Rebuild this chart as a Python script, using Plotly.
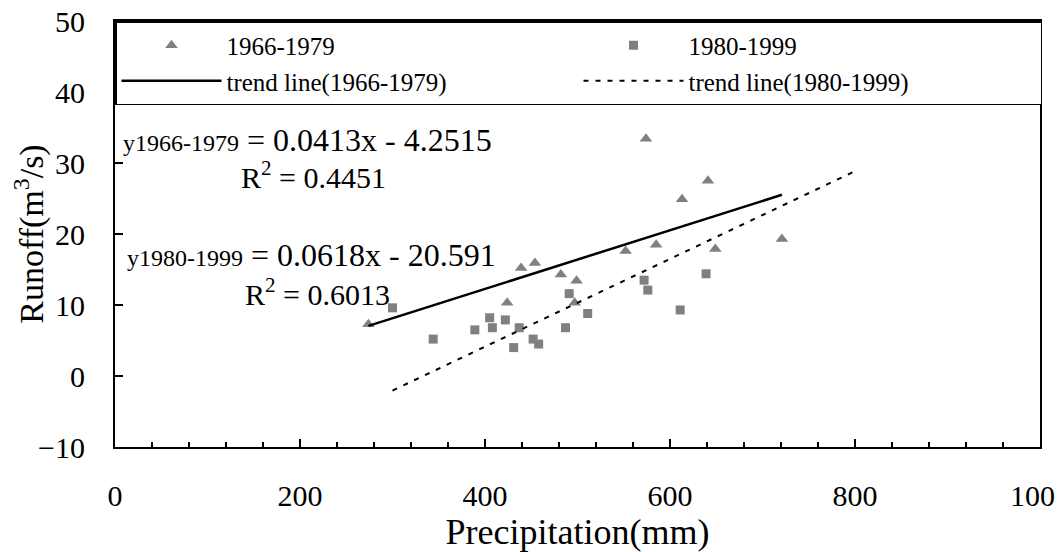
import plotly.graph_objects as go

# ---- data ----
x_1966 = [274, 424, 439, 454, 482, 497, 499, 552, 574, 585, 613, 641, 649, 721]
y_1966 = [7.3, 10.3, 15.2, 15.9, 14.3, 10.3, 13.4, 17.6, 33.4, 18.5, 24.9, 27.5, 17.9, 19.3]

x_1980 = [300, 344, 389, 405, 408, 422, 431, 437, 452, 458, 487, 491, 511, 572, 576, 611, 639]
y_1980 = [9.6, 5.2, 6.5, 8.2, 6.8, 7.9, 4.0, 6.8, 5.2, 4.5, 6.8, 11.6, 8.8, 13.5, 12.1, 9.3, 14.4]

slope_1966, intercept_1966, r2_1966 = 0.0413, -4.2515, 0.4451
slope_1980, intercept_1980, r2_1980 = 0.0618, -20.591, 0.6013
trend_x_1966 = [min(x_1966), max(x_1966)]
trend_x_1980 = [min(x_1980), 800]

x_ticks = [0, 200, 400, 600, 800, 1000]
y_ticks = [-10, 0, 10, 20, 30, 40, 50]

FONT = "Liberation Serif"
GREY = "#808080"

fig = go.Figure()
fig.add_trace(go.Scatter(x=x_1966, y=y_1966, mode="markers", name="1966-1979",
                         marker=dict(symbol="triangle-up", size=11, color=GREY)))
fig.add_trace(go.Scatter(x=x_1980, y=y_1980, mode="markers", name="1980-1999",
                         marker=dict(symbol="square", size=9, color=GREY)))
fig.add_trace(go.Scatter(x=trend_x_1966, y=[slope_1966 * v + intercept_1966 for v in trend_x_1966],
                         mode="lines", name="trend line(1966-1979)",
                         line=dict(color="black", width=2.5)))
fig.add_trace(go.Scatter(x=trend_x_1980, y=[slope_1980 * v + intercept_1980 for v in trend_x_1980],
                         mode="lines", name="trend line(1980-1999)",
                         line=dict(color="black", width=2, dash="5px,7px")))

def eq_text(period, slope, intercept):
    sign = "-" if intercept < 0 else "+"
    return (f"<span style='font-size:24px'>y{period}</span> = {slope}x {sign} {abs(intercept)}")

ann = [
    dict(text=eq_text("1966-1979", slope_1966, intercept_1966), x=0.007, y=0.721,
         xanchor="left", yanchor="middle", font=dict(size=32)),
    dict(text=f"R<sup>2</sup> = {r2_1966}", x=0.215, y=0.638, xanchor="center", yanchor="middle",
         font=dict(size=30)),
    dict(text=eq_text("1980-1999", slope_1980, intercept_1980), x=0.011, y=0.451,
         xanchor="left", yanchor="middle", font=dict(size=32)),
    dict(text=f"R<sup>2</sup> = {r2_1980}", x=0.219, y=0.364, xanchor="center", yanchor="middle",
         font=dict(size=30)),
]
for a in ann:
    a.update(xref="paper", yref="paper", showarrow=False)
    a["font"].update(family=FONT, color="black")

axis_common = dict(showgrid=False, zeroline=False, showline=True, linecolor="black", linewidth=2,
                   mirror=True, ticks="inside", tickcolor="black", tickwidth=1.5,
                   ticklabeloverflow="allow",
                   tickfont=dict(family=FONT, size=30, color="black"))

# the page body adds an 8px offset, so the figure is sized to fill the rest of the window
fig.update_layout(
    width=1055, height=544,
    margin=dict(l=107, r=23, t=13, b=105, autoexpand=False),
    paper_bgcolor="white", plot_bgcolor="white",
    font=dict(family=FONT, color="black"),
    annotations=ann,
    showlegend=True,
    legend=dict(orientation="h", x=0, y=1, xanchor="left", yanchor="top",
                entrywidth=347, entrywidthmode="pixels", itemwidth=100,
                bgcolor="white", bordercolor="black", borderwidth=1.5,
                font=dict(family=FONT, size=25, color="black"), traceorder="normal"),
    xaxis=dict(range=[0, 1000], tickvals=x_ticks, ticklen=8, ticklabelstandoff=21,
               minor=dict(dtick=40, ticks="inside", ticklen=5, tickcolor="black", tickwidth=1.5),
               title=dict(text="Precipitation(mm)", font=dict(family=FONT, size=36), standoff=18),
               **axis_common),
    yaxis=dict(range=[-10, 50], tickvals=y_ticks, ticklen=8, ticklabelstandoff=22,
               title=dict(text="Runoff(m<sup>3</sup>/s)", font=dict(family=FONT, size=34), standoff=6),
               **axis_common),
)

fig.write_html("out.html")
